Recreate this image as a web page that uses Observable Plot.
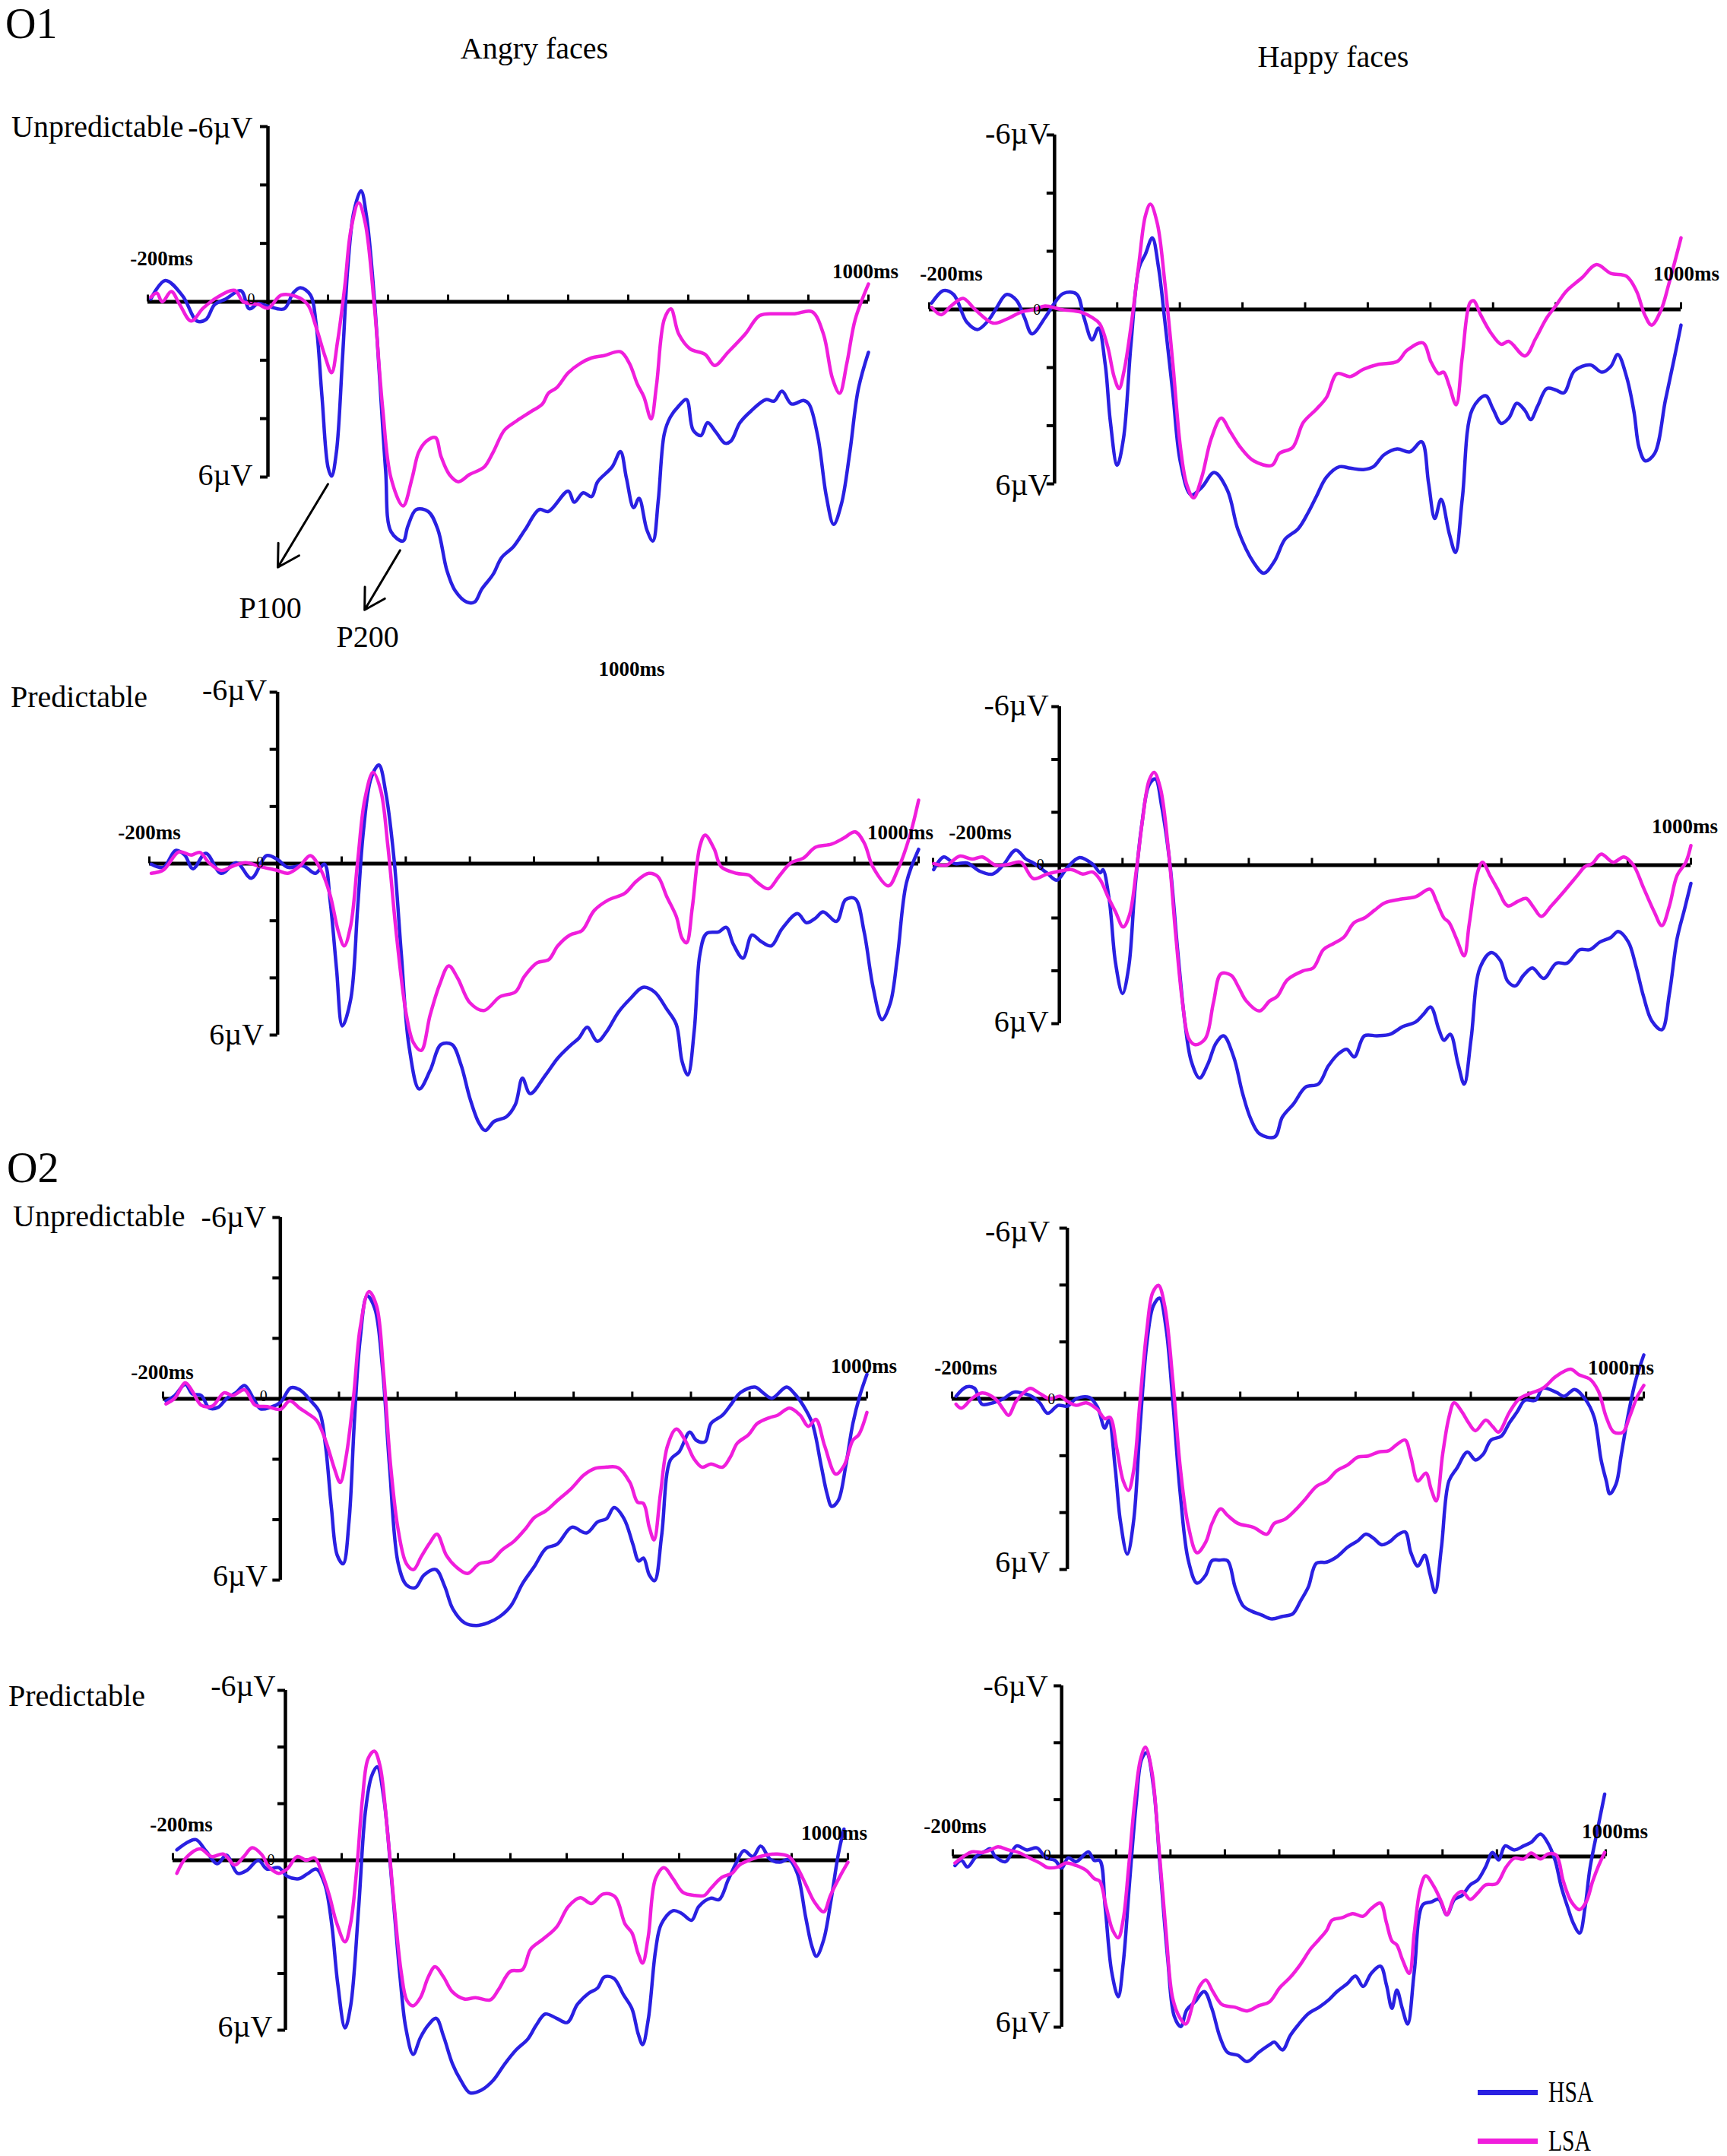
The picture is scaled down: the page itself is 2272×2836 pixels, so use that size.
<!DOCTYPE html>
<html><head><meta charset="utf-8">
<script src="https://cdn.jsdelivr.net/npm/d3@7"></script>
<script src="https://cdn.jsdelivr.net/npm/@observablehq/plot@0.6"></script>
<style>
body{margin:0;background:#fff;}
#page{position:relative;width:2272px;height:2836px;background:#fff;overflow:hidden;font-family:"Liberation Serif","Times New Roman",serif;color:#000;}
.lbl{position:absolute;white-space:nowrap;line-height:1;}
.panel{position:absolute;}
.panel svg{overflow:visible;}
.sw{position:absolute;}
</style></head><body><div id="page"></div>
<script>
// ---------------- DATA (time ms, amplitude µV; positive plotted downward) ----------------
const groups = ["HSA", "LSA"];
const electrodes = ["O1", "O2"];
const faceTypes = ["Angry faces", "Happy faces"];
const conditions = ["Unpredictable", "Predictable"];
const xTicks = [-200, 100, 200, 300, 400, 500, 600, 700, 800, 900, 1000];
const yTicks = [-6, -4, -2, 2, 4, 6];
const xTickLabels = ["-200ms", "1000ms"];
const yTickLabels = ["-6µV", "6µV"];
const zeroLabel = "0";
const peakNames = ["P100", "P200"];
const peakArrows = [[100, 6.24, 16.5, 9.09], [220, 8.51, 161, 10.55]];
const peakTextPos = [[4, 10.83], [166, 11.82]];

const o1UnpAngryHSA = [[-195,-0.1],[-171,-0.73],[-142,-0.2],[-118,0.66],[-103,0.6],[-89,0.1],[-70,-0.1],[-45,-0.38],[-31,0.24],[-16,0.06],[0,0.15],[27,0.24],[42,-0.3],[54,-0.48],[71,-0.23],[80,0.72],[90,3.25],[100,5.66],[106,5.97],[114,5.15],[124,1.99],[133,-1.18],[143,-3.08],[155,-3.8],[164,-2.95],[177,-0.16],[186,2.62],[196,5.78],[205,7.87],[225,8.19],[233,7.68],[247,7.11],[267,7.18],[283,7.8],[298,9.2],[312,9.9],[331,10.28],[344,10.28],[356,9.84],[375,9.33],[389,8.76],[409,8.38],[428,7.81],[452,7.11],[467,7.18],[500,6.48],[510,6.86],[525,6.54],[539,6.67],[549,6.16],[573,5.66],[587,5.13],[597,6.04],[609,7.05],[618,6.73],[631,7.81],[641,8.19],[650,6.8],[660,4.52],[670,3.95],[684,3.57],[697,3.35],[708,4.39],[721,4.58],[732,4.14],[746,4.46],[761,4.84],[771,4.77],[786,4.14],[805,3.73],[829,3.35],[843,3.4],[856,3.06],[872,3.5],[892,3.38],[901,3.5],[916,4.65],[930,6.67],[942,7.62],[955,6.92],[969,5.15],[983,3.0],[1000,1.73]];
const o1UnpAngryLSA = [[-195,-0.16],[-185,-0.3],[-176,0],[-161,-0.35],[-147,0.09],[-128,0.66],[-108,0.22],[-84,-0.16],[-55,-0.39],[-41,0],[-16,0.09],[0,0.22],[22,-0.23],[46,-0.19],[66,0.09],[80,0.85],[95,1.86],[106,2.43],[116,1.35],[128,-0.54],[138,-2.44],[151,-3.39],[162,-2.7],[177,0.09],[191,3.63],[205,6.04],[225,6.99],[240,6.04],[251,5.15],[264,4.77],[279,4.65],[288,5.28],[302,5.91],[317,6.16],[336,5.91],[360,5.66],[375,5.15],[394,4.39],[414,4.08],[438,3.76],[457,3.5],[467,3.13],[481,2.94],[500,2.43],[520,2.11],[539,1.92],[560,1.84],[587,1.71],[602,2.11],[615,2.81],[626,3.25],[638,4.01],[647,2.87],[660,0.6],[671,0.24],[684,1.1],[703,1.61],[728,1.8],[744,2.18],[766,1.73],[795,1.1],[819,0.47],[848,0.41],[877,0.41],[906,0.34],[925,1.1],[940,2.62],[952,3.13],[964,2.11],[978,0.6],[1000,-0.61]];
const o1UnpHappyHSA = [[-196,-0.22],[-177,-0.65],[-161,-0.51],[-140,0.44],[-123,0.69],[-106,0.39],[-94,0],[-77,-0.51],[-61,-0.32],[-48,0.28],[-36,0.84],[-15,0.28],[0,-0.22],[14,-0.55],[35,-0.53],[47,0.28],[60,1.05],[70,0.64],[81,1.91],[89,3.84],[100,5.36],[110,4.45],[122,1.2],[135,-1.44],[145,-1.9],[156,-2.46],[166,-1.44],[176,0.39],[189,2.92],[201,5.26],[218,6.38],[235,6.12],[255,5.61],[276,6.22],[293,7.59],[318,8.71],[334,9.07],[351,8.66],[368,7.9],[389,7.54],[405,6.98],[418,6.43],[434,5.77],[455,5.41],[472,5.46],[493,5.51],[509,5.41],[526,5.0],[547,4.8],[567,4.9],[586,4.55],[597,5.97],[607,7.19],[617,6.53],[630,7.7],[640,8.36],[651,6.48],[667,3.43],[688,2.97],[700,3.43],[713,3.92],[725,3.74],[738,3.23],[751,3.48],[760,3.79],[771,3.33],[786,2.72],[800,2.77],[813,2.87],[830,2.11],[855,1.91],[874,2.16],[888,1.96],[899,1.55],[913,2.31],[925,3.53],[933,4.75],[943,5.21],[958,4.95],[975,3.13],[988,1.81],[1000,0.54]];
const o1UnpHappyLSA = [[-196,-0.07],[-181,0.18],[-165,-0.12],[-146,-0.38],[-127,0],[-98,0.47],[-77,0.34],[-52,0.08],[-32,0],[-15,-0.12],[10,0],[43,0.1],[60,0.28],[72,0.49],[85,1.3],[95,2.31],[103,2.72],[111,2.11],[122,0.59],[135,-1.64],[145,-3.22],[153,-3.62],[164,-2.96],[176,-0.93],[189,1.91],[201,4.75],[211,6.02],[222,6.48],[235,5.77],[250,4.45],[266,3.74],[280,4.19],[297,4.75],[318,5.21],[347,5.36],[359,4.95],[380,4.75],[397,3.89],[418,3.43],[434,3.03],[451,2.21],[472,2.31],[493,2.06],[517,1.89],[547,1.79],[563,1.4],[588,1.15],[601,1.81],[613,2.21],[621,2.16],[630,2.62],[641,3.28],[651,1.6],[663,-0.22],[669,-0.3],[680,0.18],[696,0.79],[713,1.2],[725,1.1],[751,1.6],[768,1.0],[786,0.28],[800,-0.12],[817,-0.63],[842,-1.09],[865,-1.54],[888,-1.24],[913,-1.14],[929,-0.63],[942,0.18],[953,0.54],[968,0.03],[980,-0.83],[1000,-2.46]];
const o1PreAngryHSA = [[-197,0.02],[-178,0.13],[-159,-0.46],[-145,-0.3],[-132,0.18],[-112,-0.36],[-88,0.34],[-64,-0.03],[-41,0.51],[-17,-0.28],[0,-0.14],[16,0.13],[40,0.08],[59,0.34],[73,0.02],[82,1.31],[92,3.69],[101,5.68],[114,4.76],[125,1.53],[134,-1.16],[146,-3.0],[158,-3.45],[169,-2.46],[182,-0.09],[193,3.15],[205,6.38],[221,7.89],[238,7.24],[255,6.33],[272,6.33],[286,7.03],[300,8.21],[314,9.07],[324,9.34],[338,9.02],[357,8.86],[371,8.43],[382,7.51],[394,8.05],[418,7.4],[437,6.81],[456,6.38],[470,6.11],[483,5.73],[499,6.22],[513,5.89],[532,5.19],[551,4.71],[570,4.33],[588,4.49],[607,5.09],[622,5.63],[631,6.92],[640,7.4],[650,5.84],[659,3.15],[669,2.45],[688,2.39],[700,2.23],[711,2.82],[726,3.31],[740,2.5],[754,2.72],[770,2.88],[787,2.28],[811,1.75],[825,2.07],[839,1.91],[851,1.69],[872,2.02],[886,1.26],[901,1.23],[915,2.39],[929,4.33],[943,5.46],[956,4.87],[967,3.25],[981,0.67],[1000,-0.5]];
const o1PreAngryLSA = [[-197,0.34],[-178,0.22],[-154,-0.41],[-135,-0.3],[-121,-0.39],[-107,-0.03],[-88,0.24],[-69,0.08],[-50,-0.03],[-26,0.11],[0,0.24],[16,0.34],[35,0.08],[51,-0.28],[68,0.24],[82,1.1],[95,2.39],[104,2.88],[114,2.18],[125,-0.09],[136,-2.24],[149,-3.19],[161,-2.56],[172,-0.63],[186,2.61],[201,5.3],[212,6.27],[224,6.54],[238,5.3],[253,4.22],[267,3.58],[281,4.01],[300,4.87],[322,5.14],[347,4.66],[371,4.49],[385,3.95],[405,3.47],[423,3.36],[437,2.88],[456,2.5],[475,2.34],[494,1.64],[517,1.26],[541,1.05],[560,0.61],[579,0.34],[593,0.45],[607,1.15],[622,1.85],[631,2.61],[638,2.77],[647,1.53],[659,-0.63],[667,-1.0],[681,-0.52],[692,0.11],[716,0.34],[735,0.4],[749,0.67],[766,0.88],[782,0.45],[801,-0.03],[820,-0.19],[839,-0.57],[864,-0.68],[883,-0.89],[901,-1.11],[915,-0.73],[929,0.13],[953,0.78],[967,0.24],[986,-0.95],[1000,-2.22]];
const o1PreHappyHSA = [[-199,0.17],[-183,-0.31],[-166,-0.06],[-146,-0.08],[-126,0.23],[-106,0.34],[-89,0],[-69,-0.57],[-53,-0.23],[-41,-0.08],[-20,0.29],[-4,0.57],[12,0.11],[32,-0.29],[53,-0.03],[65,0.29],[69,0.17],[79,1.31],[89,3.71],[100,4.86],[110,3.83],[119,1.09],[130,-1.43],[142,-3.03],[152,-3.26],[162,-2.23],[175,-0.06],[187,3.14],[199,6.0],[209,7.43],[222,8.06],[235,7.54],[248,6.74],[260,6.46],[276,7.26],[290,8.63],[303,9.6],[317,10.17],[341,10.29],[353,9.54],[371,9.03],[390,8.4],[410,8.29],[426,7.6],[442,7.14],[455,6.97],[467,7.26],[483,6.46],[503,6.46],[524,6.4],[544,6.11],[564,5.94],[576,5.66],[588,5.37],[601,6.23],[609,6.63],[619,6.4],[631,7.49],[641,8.29],[652,6.57],[666,3.89],[684,3.31],[698,3.6],[710,4.4],[722,4.57],[735,4.17],[749,3.89],[767,4.29],[787,3.71],[804,3.71],[824,3.2],[840,3.2],[856,2.91],[873,2.74],[885,2.51],[901,2.91],[913,3.83],[925,4.97],[938,5.89],[954,6.23],[966,4.86],[978,2.8],[990,1.66],[1000,0.69]];
const o1PreHappyLSA = [[-199,-0.06],[-179,0],[-158,-0.34],[-138,-0.23],[-122,-0.31],[-101,0],[-81,-0.03],[-61,-0.11],[-41,0.51],[-20,0.34],[0,0.23],[20,0.17],[37,0.34],[53,0.26],[65,0.57],[77,1.2],[89,1.77],[101,2.34],[111,1.89],[122,0.17],[132,-1.77],[142,-3.2],[150,-3.51],[160,-2.91],[173,-0.51],[184,2.57],[195,5.2],[205,6.57],[215,6.8],[231,6.57],[244,5.2],[256,4.11],[272,4.17],[284,4.63],[296,5.14],[317,5.52],[333,5.14],[345,4.97],[361,4.34],[386,4.0],[402,3.89],[418,3.2],[434,2.97],[450,2.74],[467,2.17],[483,2.0],[499,1.71],[515,1.43],[540,1.29],[564,1.2],[587,0.91],[597,1.37],[609,2.0],[617,2.17],[629,2.8],[641,3.43],[649,2.23],[662,0.29],[670,-0.11],[682,0.4],[694,0.91],[710,1.54],[726,1.37],[739,1.26],[751,1.6],[763,1.94],[779,1.54],[800,0.97],[820,0.4],[832,0.06],[844,-0.06],[858,-0.42],[877,-0.11],[894,-0.31],[909,0],[925,0.86],[942,1.77],[954,2.29],[966,1.54],[978,0.4],[992,-0.11],[1000,-0.74]];
const o2UnpAngryHSA = [[-195,0.07],[-180,-0.11],[-162,-0.48],[-150,-0.16],[-135,-0.11],[-121,0.31],[-106,0.28],[-91,-0.02],[-76,-0.2],[-61,-0.44],[-46,-0.02],[-34,0.33],[-17,0.28],[0,0.12],[18,-0.37],[33,-0.3],[52,0.07],[67,0.45],[77,1.56],[87,3.6],[97,5.18],[107,5.46],[117,4.07],[126,0.82],[136,-1.97],[148,-3.41],[161,-2.99],[174,-1.04],[186,2.21],[201,5.46],[215,6.16],[230,6.25],[245,5.83],[265,5.65],[280,6.2],[294,6.95],[314,7.41],[334,7.5],[354,7.41],[373,7.22],[393,6.85],[413,6.11],[433,5.55],[453,4.95],[472,4.81],[497,4.25],[522,4.44],[541,4.07],[556,3.97],[569,3.6],[586,3.97],[601,4.81],[611,5.37],[619,5.27],[629,5.83],[638,6.02],[650,4.53],[665,2.02],[680,1.75],[698,1.1],[709,1.37],[724,1.42],[734,0.82],[754,0.54],[769,0.17],[784,-0.2],[809,-0.39],[823,-0.2],[838,-0.02],[863,-0.39],[877,-0.16],[892,0.24],[907,0.82],[922,2.21],[932,3.14],[940,3.56],[951,3.37],[964,2.21],[976,0.82],[988,-0.11],[1000,-0.81]];
const o2UnpAngryLSA = [[-195,0.17],[-180,-0.02],[-162,-0.53],[-150,-0.25],[-135,0.21],[-116,0.24],[-96,-0.2],[-81,-0.11],[-61,-0.3],[-43,0.21],[-22,0.26],[0,0.35],[16,0.07],[33,0.31],[47,0.49],[62,0.72],[77,1.37],[92,2.3],[102,2.77],[112,1.93],[125,-0.11],[136,-2.34],[151,-3.55],[164,-3.08],[176,-0.85],[188,2.21],[201,4.35],[215,5.46],[227,5.65],[240,5.23],[255,4.76],[267,4.48],[283,5.18],[299,5.55],[319,5.78],[339,5.46],[359,5.37],[378,5.0],[398,4.72],[418,4.3],[433,3.93],[453,3.7],[472,3.37],[497,2.95],[517,2.53],[537,2.3],[556,2.26],[576,2.28],[596,2.77],[609,3.42],[619,3.46],[629,4.25],[637,4.67],[648,3.14],[660,1.56],[675,1.0],[690,1.37],[705,1.98],[719,2.26],[734,2.16],[754,2.26],[767,1.93],[779,1.47],[798,1.19],[813,0.82],[833,0.63],[848,0.54],[868,0.31],[886,0.54],[900,0.91],[913,0.68],[928,1.56],[947,2.49],[961,2.21],[976,1.37],[986,1.19],[1000,0.45]];
const o2UnpHappyHSA = [[-193,-0.09],[-175,-0.42],[-161,-0.37],[-148,0.19],[-129,0.14],[-111,0],[-93,-0.23],[-80,-0.21],[-62,-0.09],[-48,0.14],[-34,0.51],[-16,0.23],[0,0.26],[15,0],[38,-0.05],[52,0.28],[65,1.03],[72,0.75],[83,2.43],[92,4.29],[104,5.46],[115,4.29],[126,1.03],[138,-1.96],[149,-3.26],[160,-3.54],[171,-2.52],[183,0.09],[196,3.36],[210,5.69],[225,6.48],[240,6.2],[251,5.69],[264,5.67],[278,5.69],[291,6.62],[305,7.28],[319,7.46],[337,7.6],[355,7.74],[373,7.65],[391,7.56],[405,7.09],[418,6.62],[432,5.78],[450,5.74],[468,5.55],[486,5.22],[504,4.99],[518,4.76],[531,4.9],[545,5.13],[558,5.04],[572,4.8],[586,4.68],[596,5.41],[608,5.88],[620,5.5],[629,6.16],[638,6.81],[649,5.22],[662,2.89],[676,2.43],[694,1.87],[708,2.15],[721,1.96],[735,1.45],[753,1.31],[767,0.84],[780,0.47],[794,0.05],[812,0.05],[825,-0.37],[848,-0.23],[862,-0.09],[880,-0.33],[898,0],[914,0.65],[926,2.15],[935,2.89],[941,3.34],[952,2.99],[961,1.96],[973,0.56],[986,-0.65],[1000,-1.54]];
const o2UnpHappyLSA = [[-193,0.19],[-184,0.33],[-166,0],[-148,-0.21],[-125,0],[-111,0.37],[-102,0.58],[-89,0.09],[-75,-0.23],[-64,-0.37],[-48,-0.19],[-30,0],[-12,-0.09],[0,0.09],[15,0.23],[33,0.14],[52,0.37],[65,0.7],[74,0.65],[86,1.77],[97,2.89],[106,3.22],[115,2.52],[126,0.09],[138,-2.43],[148,-3.73],[158,-3.99],[169,-3.26],[183,-0.65],[196,2.43],[210,4.48],[225,5.41],[240,5.04],[251,4.38],[266,3.87],[278,4.1],[296,4.38],[323,4.52],[346,4.76],[359,4.38],[377,4.24],[395,3.92],[414,3.5],[432,3.08],[450,2.89],[468,2.52],[486,2.33],[504,2.05],[522,2.01],[540,1.87],[558,1.82],[572,1.6],[586,1.45],[596,2.05],[608,2.89],[622,2.61],[631,3.17],[640,3.59],[651,1.96],[662,0.65],[671,0.14],[685,0.47],[696,0.84],[708,1.12],[726,0.75],[738,0.98],[748,1.17],[767,0.47],[784,0],[803,-0.19],[825,-0.37],[848,-0.79],[873,-1.04],[888,-0.84],[906,-0.7],[921,-0.28],[935,0.65],[948,1.17],[964,1.17],[975,0.65],[989,-0.09],[1000,-0.47]];
const o2PreAngryHSA = [[-193,-0.37],[-177,-0.6],[-159,-0.73],[-141,-0.32],[-121,0.12],[-105,-0.18],[-85,0.46],[-69,0.36],[-48,0],[-33,0.31],[-12,0.26],[3,0.56],[24,0.65],[39,0.48],[55,0.31],[70,0.85],[82,2.21],[93,4.36],[106,5.92],[116,5.14],[130,1.73],[142,-1.69],[153,-2.96],[163,-3.3],[175,-2.18],[189,0.75],[204,4.17],[214,5.92],[227,6.85],[240,6.26],[254,5.82],[268,5.58],[281,6.21],[297,7.19],[312,7.78],[328,8.21],[348,8.12],[369,7.78],[390,7.19],[410,6.7],[431,6.31],[446,5.82],[462,5.43],[482,5.58],[501,5.73],[519,5.09],[539,4.7],[555,4.51],[567,4.12],[584,4.17],[601,4.75],[616,5.24],[627,6.12],[635,6.51],[645,5.63],[658,3.19],[668,2.26],[689,1.78],[704,1.87],[722,2.12],[735,1.63],[756,1.34],[771,1.39],[787,0.7],[802,0.07],[815,-0.34],[831,-0.13],[845,-0.5],[862,-0.03],[879,0.07],[895,-0.03],[910,0.46],[925,2.02],[936,3.04],[944,3.39],[957,2.8],[969,1.53],[983,-0.22],[993,-1.1]];
const o2PreAngryLSA = [[-193,0.46],[-177,-0.08],[-152,-0.4],[-131,-0.13],[-110,-0.22],[-90,0.17],[-74,-0.13],[-59,-0.44],[-43,-0.22],[-28,0.26],[-12,0.46],[3,0.31],[21,-0.13],[37,0],[52,-0.08],[65,0.46],[78,1.24],[91,2.21],[106,2.88],[116,2.21],[127,0.26],[137,-2.18],[147,-3.59],[158,-3.85],[168,-3.35],[181,-1.1],[194,1.73],[206,3.97],[216,4.95],[227,5.14],[240,4.85],[254,4.12],[266,3.76],[281,4.12],[297,4.65],[318,4.9],[338,4.85],[364,4.93],[379,4.56],[400,3.92],[421,3.87],[436,3.14],[457,2.8],[482,2.36],[503,1.63],[524,1.32],[544,1.53],[565,1.19],[586,1.29],[604,2.26],[616,2.56],[627,3.29],[635,3.63],[645,2.7],[658,0.65],[673,0.26],[689,0.65],[707,1.14],[728,1.24],[745,1.24],[756,1.0],[776,0.6],[794,0.46],[807,0.17],[828,-0.03],[854,-0.18],[874,-0.22],[895,-0.13],[910,0.26],[925,0.85],[941,1.49],[957,1.82],[969,1.24],[986,0.56],[1000,0.07]];
const o2PreHappyHSA = [[-196,0.32],[-184,0.14],[-173,0.37],[-157,0],[-141,-0.18],[-131,-0.27],[-122,0],[-103,0.18],[-83,-0.37],[-64,-0.23],[-45,-0.3],[-29,0.05],[-12,0.14],[0,0.41],[12,0.05],[27,0.18],[49,-0.16],[60,0.14],[70,0.14],[80,1.78],[92,4.06],[104,4.93],[113,3.79],[125,0.87],[137,-1.87],[147,-3.42],[156,-3.65],[169,-2.42],[180,0.14],[195,3.61],[207,5.62],[219,5.98],[230,5.39],[245,5.11],[262,4.75],[276,5.34],[291,6.35],[305,6.89],[324,6.99],[341,7.21],[362,6.89],[382,6.62],[391,6.53],[406,6.8],[420,6.3],[434,5.94],[453,5.53],[473,5.3],[492,5.02],[506,4.75],[525,4.47],[540,4.2],[554,4.57],[569,4.11],[586,3.86],[597,4.52],[607,5.34],[616,4.7],[626,5.34],[636,5.89],[648,4.06],[664,1.69],[679,1.6],[693,1.51],[708,2.05],[722,1.51],[736,1.37],[751,1.0],[765,0.82],[779,0.37],[792,-0.14],[803,0.12],[815,-0.37],[832,-0.23],[849,-0.37],[863,-0.5],[880,-0.79],[894,-0.46],[907,0.14],[918,1.05],[930,1.78],[940,2.33],[952,2.69],[962,1.78],[971,0.41],[985,-0.96],[998,-2.19]];
const o2PreHappyLSA = [[-196,0.23],[-184,0.05],[-165,-0.16],[-146,-0.14],[-131,-0.23],[-117,-0.34],[-98,-0.23],[-79,-0.14],[-59,0.05],[-40,0.23],[-26,0.39],[-7,0.37],[8,0.23],[27,0.32],[46,0.5],[60,0.78],[70,0.87],[82,1.78],[94,2.6],[104,2.86],[113,2.24],[123,0.41],[134,-1.87],[145,-3.42],[154,-3.84],[166,-2.97],[178,-0.5],[192,2.69],[204,4.98],[217,5.66],[228,5.89],[243,5.07],[255,4.52],[265,4.34],[278,4.75],[295,5.21],[319,5.3],[341,5.43],[362,5.25],[382,5.11],[401,4.61],[420,4.25],[439,3.79],[458,3.24],[473,2.92],[487,2.6],[497,2.24],[516,2.15],[535,2.01],[554,2.1],[569,1.83],[586,1.64],[597,2.33],[607,2.97],[616,3.11],[626,3.61],[639,4.11],[648,2.69],[659,1.14],[669,0.68],[684,1.05],[698,1.6],[708,2.05],[722,1.42],[736,1.23],[751,1.51],[765,1.28],[779,1.0],[799,0.96],[817,0.37],[832,0.06],[849,0.09],[863,-0.12],[880,0.09],[894,-0.09],[909,-0.05],[922,0.87],[937,1.6],[952,1.87],[964,1.6],[976,0.87],[987,0.32],[998,-0.14]];

// ---------------- LAYOUT / STYLE ----------------
const BLUE = "#2a20e2", MAGENTA = "#f01edc";
const SERIF = "Liberation Serif, Times New Roman, serif";
// box: [left, top, width, height] (page px); xr/yr: page px of x -200..1000 and y -6..6
// label offsets [dx, dyBaseline] in px
const panels = [
  {hsa:o1UnpAngryHSA, lsa:o1UnpAngryLSA, box:[0,100,1190,770], xr:[194,1142], yr:[166,627],
   m200:[18,-48], k1000:[-4,-31], zero:[-22,3], top:[-20,14], bot:[-20,10], peaks:true},
  {hsa:o1UnpHappyHSA, lsa:o1UnpHappyLSA, box:[1190,100,1082,770], xr:[1222,2211], yr:[177,636],
   m200:[29,-38], k1000:[7,-38], zero:[-23,7], top:[-6,11], bot:[-6,14]},
  {hsa:o1PreAngryHSA, lsa:o1PreAngryLSA, box:[0,870,1190,660], xr:[196,1208], yr:[910,1361],
   m200:[0,-32], k1000:[-24,-32], zero:[-23,5], top:[-14,10], bot:[-18,12]},
  {hsa:o1PreHappyHSA, lsa:o1PreHappyLSA, box:[1190,870,1082,660], xr:[1227,2224], yr:[929,1346],
   m200:[62,-34], k1000:[-8,-42], zero:[-25,6], top:[-14,11], bot:[-14,10]},
  {hsa:o2UnpAngryHSA, lsa:o2UnpAngryLSA, box:[0,1530,1190,660], xr:[214,1140], yr:[1601,2078],
   m200:[-1,-26], k1000:[-4,-34], zero:[-22,3], top:[-19,12], bot:[-17,7]},
  {hsa:o2UnpHappyHSA, lsa:o2UnpHappyLSA, box:[1190,1530,1082,660], xr:[1252,2162], yr:[1615,2064],
   m200:[18,-32], k1000:[-30,-32], zero:[-21,7], top:[-23,17], bot:[-23,3]},
  {hsa:o2PreAngryHSA, lsa:o2PreAngryLSA, box:[0,2190,1190,600], xr:[227,1115], yr:[2223,2670],
   m200:[11,-38], k1000:[-18,-27], zero:[-19,6], top:[-13,7], bot:[-17,8]},
  {hsa:o2PreHappyHSA, lsa:o2PreHappyLSA, box:[1190,2190,1082,600], xr:[1253,2112], yr:[2217,2666],
   m200:[3,-31], k1000:[12,-24], zero:[-19,5], top:[-18,13], bot:[-15,6]}
];

const page = document.getElementById("page");

function addLabel(text, {x, cx, base, fs, bold, scaleX}) {
  const s = document.createElement("div");
  s.className = "lbl";
  s.textContent = text;
  s.style.fontSize = fs + "px";
  if (bold) s.style.fontWeight = "bold";
  s.style.top = (base - 0.8375 * fs) + "px";
  let tr = "";
  if (cx !== undefined) { s.style.left = cx + "px"; tr += "translateX(-50%) "; }
  else s.style.left = x + "px";
  if (scaleX) { tr += `scaleX(${scaleX})`; s.style.transformOrigin = "left"; }
  if (tr) s.style.transform = tr;
  page.appendChild(s);
}

// headers & row labels
addLabel(electrodes[0], {x: 7, base: 50, fs: 56});
addLabel(faceTypes[0], {cx: 703, base: 77, fs: 40});
addLabel(faceTypes[1], {cx: 1754, base: 88, fs: 40});
addLabel(conditions[0], {x: 15, base: 180, fs: 40});
addLabel(conditions[1], {x: 14, base: 930, fs: 40});
addLabel(electrodes[1], {x: 9, base: 1555, fs: 56});
addLabel(conditions[0], {x: 17, base: 1613, fs: 40});
addLabel(conditions[1], {x: 11, base: 2244, fs: 40});
addLabel(xTickLabels[1], {cx: 831, base: 890, fs: 27, bold: true});

const pt = d => ({t: d[0], v: d[1]});

panels.forEach(p => {
  const [L, T, W, H] = p.box;
  const ppx = (p.xr[1] - p.xr[0]) / 1200; // px per ms
  const ppy = (p.yr[1] - p.yr[0]) / 12;   // px per µV
  const tFs = 27, vFs = 40, zFs = 20;
  const marks = [
    Plot.ruleY([0], {x1: -200, x2: 1000, stroke: "black", strokeWidth: 5}),
    Plot.ruleX([0], {y1: -6, y2: 6, stroke: "black", strokeWidth: 4.5}),
    Plot.ruleX(xTicks, {x: d => d, y1: 0, y2: -9 / ppy, stroke: "black", strokeWidth: 3}),
    Plot.ruleY(yTicks, {y: d => d, x1: -10 / ppx, x2: 0, stroke: "black", strokeWidth: 4}),
    Plot.line(p.hsa.map(pt), {x: "t", y: "v", stroke: BLUE, strokeWidth: 4.5, curve: "catmull-rom", strokeLinejoin: "round"}),
    Plot.line(p.lsa.map(pt), {x: "t", y: "v", stroke: MAGENTA, strokeWidth: 4.5, curve: "catmull-rom", strokeLinejoin: "round"}),
    Plot.text([{t: -200, s: xTickLabels[0], o: p.m200}, {t: 1000, s: xTickLabels[1], o: p.k1000}].slice(0,1),
      {x: "t", y: () => 0, text: "s", dx: p.m200[0], dy: p.m200[1] - 0.32 * tFs, fontSize: tFs, fontWeight: "bold", fontFamily: SERIF, fill: "black", textAnchor: "middle"}),
    Plot.text([{t: 1000, s: xTickLabels[1]}],
      {x: "t", y: () => 0, text: "s", dx: p.k1000[0], dy: p.k1000[1] - 0.32 * tFs, fontSize: tFs, fontWeight: "bold", fontFamily: SERIF, fill: "black", textAnchor: "middle"}),
    Plot.text([{t: 0, v: 0, s: zeroLabel}],
      {x: "t", y: "v", text: "s", dx: p.zero[0], dy: p.zero[1] - 0.32 * zFs, fontSize: zFs, fontFamily: SERIF, fill: "black", textAnchor: "middle"}),
    Plot.text([{t: 0, v: -6, s: yTickLabels[0]}],
      {x: "t", y: "v", text: "s", dx: p.top[0], dy: p.top[1] - 0.32 * vFs, fontSize: vFs, fontFamily: SERIF, fill: "black", textAnchor: "end"}),
    Plot.text([{t: 0, v: 6, s: yTickLabels[1]}],
      {x: "t", y: "v", text: "s", dx: p.bot[0], dy: p.bot[1] - 0.32 * vFs, fontSize: vFs, fontFamily: SERIF, fill: "black", textAnchor: "end"})
  ];
  if (p.peaks) {
    marks.push(Plot.arrow(peakArrows, {x1: d => d[0], y1: d => d[1], x2: d => d[2], y2: d => d[3], stroke: "black", strokeWidth: 3, headLength: 16}));
    marks.push(Plot.text(peakNames.map((s, i) => ({s, t: peakTextPos[i][0], v: peakTextPos[i][1]})),
      {x: "t", y: "v", text: "s", dy: -0.32 * vFs, fontSize: vFs, fontFamily: SERIF, fill: "black", textAnchor: "middle"}));
  }
  const svg = Plot.plot({
    width: W, height: H, margin: 0,
    x: {domain: [-200, 1000], range: [p.xr[0] - L, p.xr[1] - L], axis: null},
    y: {domain: [-6, 6], range: [p.yr[0] - T, p.yr[1] - T], axis: null},
    style: {background: "transparent", overflow: "visible", fontFamily: SERIF},
    marks
  });
  svg.style.background = "transparent";
  svg.style.overflow = "visible";
  svg.style.maxWidth = "none";
  const div = document.createElement("div");
  div.className = "panel";
  div.style.left = L + "px";
  div.style.top = T + "px";
  div.style.width = W + "px";
  div.style.height = H + "px";
  div.appendChild(svg);
  page.appendChild(div);
});

// legend
[[groups[0], BLUE, 2752, 2765], [groups[1], MAGENTA, 2816, 2829]].forEach(([name, col, ly, base]) => {
  const sw = document.createElement("div");
  sw.className = "sw";
  sw.style.left = "1944px"; sw.style.width = "79px";
  sw.style.top = (ly - 3.5) + "px"; sw.style.height = "7px";
  sw.style.background = col;
  page.appendChild(sw);
  addLabel(name, {x: 2037, base, fs: 40, scaleX: 0.74});
});
</script></body></html>
